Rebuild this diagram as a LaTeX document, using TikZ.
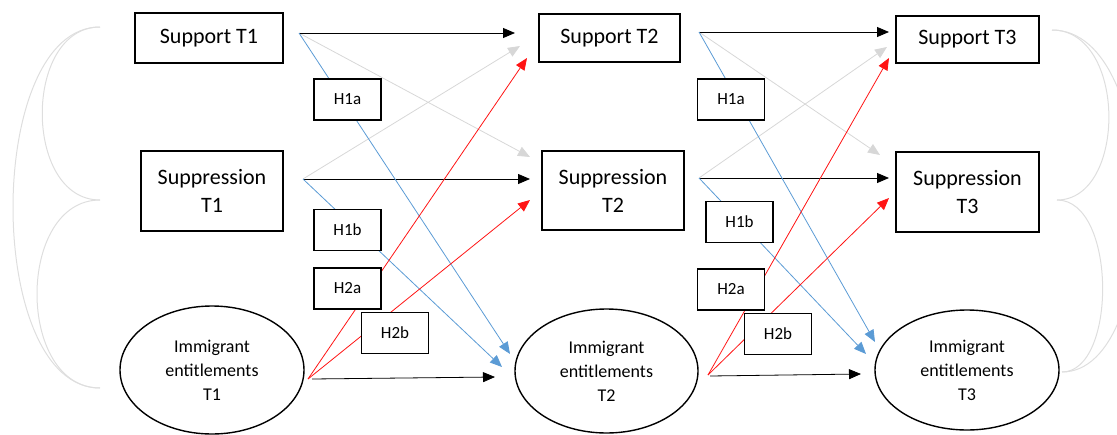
\documentclass[tikz,border=0pt]{standalone}
\usepackage{fontspec}
\setmainfont{Carlito}
\usetikzlibrary{arrows.meta,shapes.geometric}

\definecolor{hgrey}{RGB}{215,215,215}
\definecolor{hblue}{RGB}{91,155,213}
\definecolor{hred}{RGB}{255,20,20}
\definecolor{corgrey}{RGB}{222,222,222}

\begin{document}
\begin{tikzpicture}[x=1pt,y=-1pt,
  box/.style={rectangle,draw,line width=1.4pt,inner sep=0pt,align=center,font=\fontsize{22}{28}\selectfont},
  ell/.style={ellipse,draw,line width=1.4pt,inner sep=0pt,align=center,font=\fontsize{18}{24}\selectfont},
  hyp/.style={rectangle,draw,line width=1.4pt,fill=white,minimum width=67pt,minimum height=41pt,font=\fontsize{17}{20}\selectfont},
  arr/.style={-{Triangle[length=12pt,width=10pt]},line width=0.8pt},
  cor/.style={draw=corgrey,line width=1pt}]

\clip (0,0) rectangle (1117,434); % margini come nell'originale

% Nodi
\node[box,minimum width=148pt,minimum height=50pt] (sup1) at (209,38) {Support T1};
\node[box,minimum width=142pt,minimum height=80pt] (spp1) at (212,191) {Suppression\\T1};
\node[ell,minimum width=184pt,minimum height=128pt] (imm1) at (212,370) {Immigrant\\entitlements\\T1};
\node[box,minimum width=141pt,minimum height=48pt] (sup2) at (609.5,38) {Support T2};
\node[box,minimum width=142pt,minimum height=79pt] (spp2) at (613,190.5) {Suppression\\T2};
\node[ell,minimum width=183pt,minimum height=124pt] (imm2) at (606.5,371) {Immigrant\\entitlements\\T2};
\node[box,minimum width=143pt,minimum height=47pt] (sup3) at (967.5,39.5) {Support T3};
\node[box,minimum width=143pt,minimum height=80pt] (spp3) at (967.5,192) {Suppression\\T3};
\node[ell,minimum width=184pt,minimum height=120pt] (imm3) at (967,370) {Immigrant\\entitlements\\T3};

% Punti di partenza e di arrivo
\coordinate (a1) at (299,33);
\coordinate (b1) at (303,179);
\coordinate (c1) at (308,379);
\coordinate (d1) at (312,379);
\coordinate (sup2in) at (515,33);
\coordinate (sup2g) at (520,46);
\coordinate (sup2r) at (527,58);
\coordinate (spp2g) at (530,157);
\coordinate (spp2in) at (530,179);
\coordinate (spp2r) at (530,200);
\coordinate (imm2a) at (510,354);
\coordinate (imm2b) at (502,367);
\coordinate (imm2in) at (495,377);

\coordinate (a2) at (699,32);
\coordinate (b2) at (699,178);
\coordinate (c2) at (708,375);
\coordinate (d2) at (710,376);
\coordinate (sup3in) at (889,32);
\coordinate (sup3g) at (887,47);
\coordinate (sup3r) at (889,58);
\coordinate (spp3g) at (880,155);
\coordinate (spp3in) at (889,178);
\coordinate (spp3r) at (889,198);
\coordinate (imm3a) at (875,342);
\coordinate (imm3b) at (866,354);
\coordinate (imm3in) at (861,374);

% Correlazioni
\coordinate (l1) at (100,27);
\coordinate (l2) at (100,200);
\coordinate (l3) at (100,388);
\coordinate (r1) at (1052,30);
\coordinate (r2) at (1057,200);
\coordinate (r3) at (1062,372);
\draw[cor] (l1) .. controls (23,27) and (23,200) .. (l2);
\draw[cor] (l2) .. controls (16,200) and (16,388) .. (l3);
\draw[cor] (l1) .. controls (-16,27) and (-16,388) .. (l3);
\draw[cor] (r1) .. controls (1127,30) and (1127,200) .. (r2);
\draw[cor] (r2) .. controls (1117,200) and (1117,372) .. (r3);
\draw[cor] (r1) .. controls (1165,30) and (1165,372) .. (r3);

% Frecce T1 -> T2
\draw[arr,hgrey] (a1) -- (spp2g);
\draw[arr,hgrey] (b1) -- (sup2g);
\draw[arr] (a1) -- (sup2in);
\draw[arr] (b1) -- (spp2in);
\draw[arr] (d1) -- (imm2in);
\draw[arr,hblue] (a1) -- (imm2a);
\draw[arr,hblue] (b1) -- (imm2b);
\draw[arr,hred] (c1) -- (sup2r);
\draw[arr,hred] (c1) -- (spp2r);

% Frecce T2 -> T3
\draw[arr,hgrey] (a2) -- (spp3g);
\draw[arr,hgrey] (b2) -- (sup3g);
\draw[arr] (a2) -- (sup3in);
\draw[arr] (b2) -- (spp3in);
\draw[arr] (d2) -- (imm3in);
\draw[arr,hblue] (a2) -- (imm3a);
\draw[arr,hblue] (b2) -- (imm3b);
\draw[arr,hred] (c2) -- (sup3r);
\draw[arr,hred] (c2) -- (spp3r);

% Ipotesi
\node[hyp] (h1a) at (347.5,99.5) {H1a};
\node[hyp] (h1b) at (347.5,230) {H1b};
\node[hyp] (h2a) at (347.5,288.5) {H2a};
\node[hyp] (h2b) at (395,333) {H2b};
\node[hyp] (k1a) at (731,99.5) {H1a};
\node[hyp] (k1b) at (739.5,222) {H1b};
\node[hyp] (k2a) at (731,289.5) {H2a};
\node[hyp] (k2b) at (778,334) {H2b};
\end{tikzpicture}
\end{document}
